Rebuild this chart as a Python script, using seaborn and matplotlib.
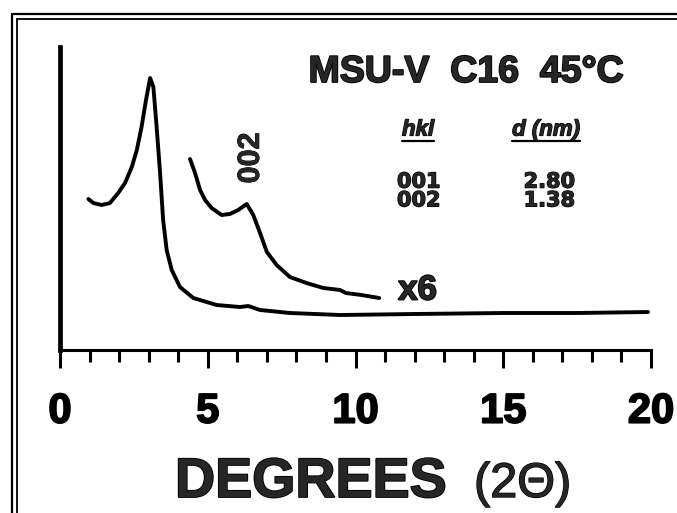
import numpy as np
import pandas as pd
import matplotlib
matplotlib.use("Agg")
import matplotlib.pyplot as plt
import seaborn as sns
from matplotlib.ticker import MultipleLocator
from matplotlib.lines import Line2D
import matplotlib.patheffects as pe

# ---- data ----
two_theta_main = [0.96, 1.13, 1.41, 1.69, 1.97, 2.20, 2.43, 2.60, 2.76, 2.91, 3.05,
                  3.16, 3.27, 3.38, 3.49, 3.61, 3.78, 4.06, 4.51, 5.30, 6.09, 6.37,
                  6.77, 7.78, 9.48, 12.0, 15.0, 17.5, 19.9]
intensity_main = [151, 147, 145, 147, 157, 167, 183, 200, 223, 250, 272,
                  263, 223, 180, 130, 100, 80, 63, 52, 45, 43, 44,
                  40, 37, 35, 36, 37, 37, 38]

two_theta_x6 = [4.40, 4.57, 4.74, 4.91, 5.13, 5.47, 5.75, 6.03, 6.32, 6.54, 6.77,
                7.00, 7.33, 7.78, 8.34, 8.91, 9.48, 9.67, 10.2, 10.8]
intensity_x6 = [191, 177, 160, 150, 142, 135, 136, 140, 146, 135, 117,
                98, 85, 73, 67, 62, 60, 57, 55, 52]

xtick_values = [0, 5, 10, 15, 20]
title_text = "MSU-V  C16  45°C"
hkl_labels = ["001", "002"]
d_values = ["2.80", "1.38"]
peak_label = "002"
scale_label = "x6"

# ---- styling ----
sns.set_style("white")
plt.rcParams['font.family'] = ['Liberation Sans', 'DejaVu Sans']

W, H = 677, 513
fig = plt.figure(figsize=(W / 100, H / 100), dpi=100)
ax = fig.add_axes([60 / W, 1 - 350 / H, 591 / W, 303 / H])

df_main = pd.DataFrame({"two_theta": two_theta_main, "intensity": intensity_main})
df_x6 = pd.DataFrame({"two_theta": two_theta_x6, "intensity": intensity_x6})

sns.lineplot(data=df_main, x="two_theta", y="intensity", ax=ax, color="black",
             lw=2.8, estimator=None, sort=False)
sns.lineplot(data=df_x6, x="two_theta", y="intensity", ax=ax, color="black",
             lw=2.8, estimator=None, sort=False)

ax.set_xlim(0, 20)
ax.set_ylim(0, 303)
ax.set_xlabel("")
ax.set_ylabel("")
ax.set_yticks([])
ax.xaxis.set_major_locator(MultipleLocator(5))
ax.xaxis.set_minor_locator(MultipleLocator(1))
ax.set_xticks(xtick_values)
ax.set_xticklabels([str(v) for v in xtick_values])

for s in ["top", "right"]:
    ax.spines[s].set_visible(False)
ax.spines["left"].set_linewidth(3.4)
ax.spines["bottom"].set_linewidth(2.2)
ax.spines["left"].set_color("black")
ax.spines["bottom"].set_color("black")

ax.tick_params(axis="x", which="major", direction="out", length=13, width=2.2,
               pad=17, labelsize=30, colors="black", bottom=True)
ax.tick_params(axis="x", which="minor", direction="out", length=8.5, width=2.2,
               colors="black", bottom=True)

heavy = [pe.withStroke(linewidth=1.3, foreground="black")]
heavy_s = [pe.withStroke(linewidth=0.9, foreground="black")]
for lbl in ax.get_xticklabels():
    lbl.set_fontweight("bold")
    lbl.set_path_effects(heavy)

# title
fig.text(466 / W, 1 - 72 / H, title_text, ha="center", va="center",
         fontsize=27, fontweight="bold", path_effects=heavy)

# table
t1 = fig.text(402 / W, 1 - 130 / H, "hkl", ha="left", va="center",
              fontsize=16, fontweight="bold", style="italic", path_effects=heavy_s)
t2 = fig.text(580 / W, 1 - 130 / H, "d (nm)", ha="right", va="center",
              fontsize=16, fontweight="bold", style="italic", path_effects=heavy_s)
fig.text(397 / W, 1 - 191 / H, "\n".join(hkl_labels), ha="left", va="center",
         multialignment="left", linespacing=0.92,
         fontsize=15, fontweight="bold", path_effects=heavy_s, family=["DejaVu Sans"])
fig.text(575 / W, 1 - 191 / H, "\n".join(d_values), ha="right", va="center",
         multialignment="right", linespacing=0.92,
         fontsize=15, fontweight="bold", path_effects=heavy_s, family=["DejaVu Sans"])

# annotations
ax.text(6.46, 192, peak_label, rotation=90, ha="center", va="center",
        fontsize=22, fontweight="bold",
        path_effects=[pe.withStroke(linewidth=0.6, foreground="black")])
ax.text(12.1, 60, scale_label, ha="center", va="center",
        fontsize=25, fontweight="bold", path_effects=heavy)

# axis title
fig.text(175 / W, 1 - 497 / H, "DEGREES", ha="left", va="baseline",
         fontsize=40, fontweight="bold", path_effects=heavy)
fig.text(474 / W, 1 - 497 / H, "(2Θ)", ha="left", va="baseline",
         fontsize=35, fontweight="normal",
         path_effects=[pe.withStroke(linewidth=1.0, foreground="black")])

# underline the column headers
fig.canvas.draw()
rend = fig.canvas.get_renderer()
for t in (t1, t2):
    bb = t.get_window_extent(rend)
    y = bb.y0
    fig.add_artist(Line2D([bb.x0 / W, bb.x1 / W], [y / H, y / H],
                          transform=fig.transFigure, color="black", lw=1.6))

# double frame (top and left)
for x, y, lw in [(12, 14, 1.6), (17, 19, 1.3)]:
    fig.add_artist(Line2D([x / W, x / W], [0, 1 - y / H], transform=fig.transFigure,
                          color="black", lw=lw))
    fig.add_artist(Line2D([x / W, 1], [1 - y / H, 1 - y / H], transform=fig.transFigure,
                          color="black", lw=lw))

fig.savefig("out.png", dpi=100)
